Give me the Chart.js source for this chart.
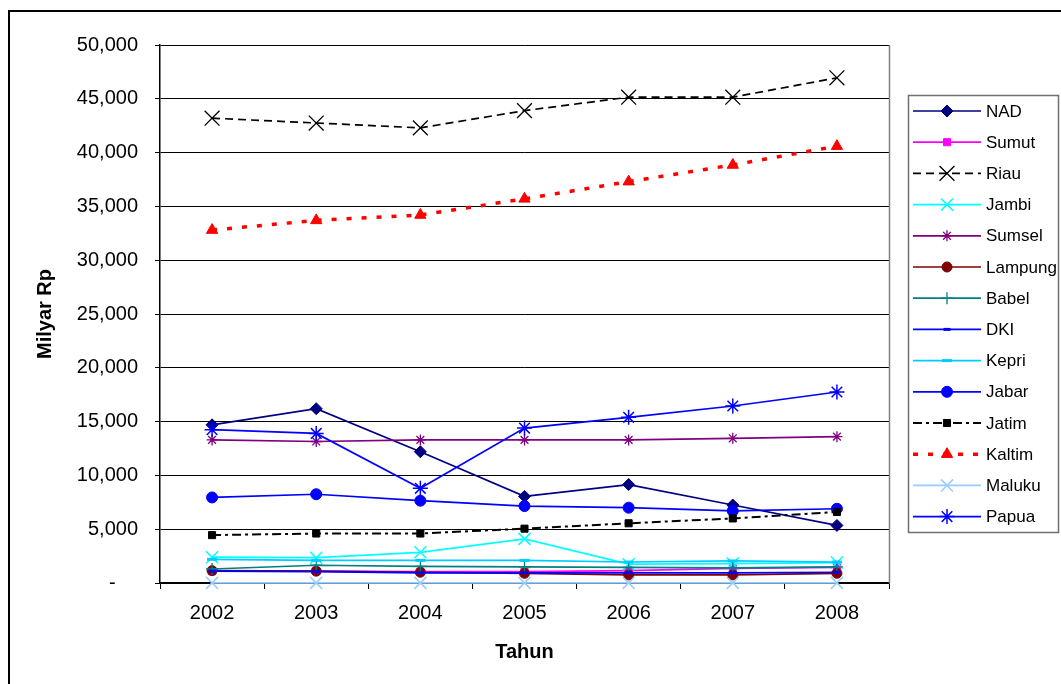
<!DOCTYPE html>
<html>
<head>
<meta charset="utf-8">
<script src="https://cdn.jsdelivr.net/npm/chart.js@4.4.1/dist/chart.umd.min.js"></script>
<style>
html,body{margin:0;padding:0;background:#fff;overflow:hidden;}
canvas{display:block;}
</style>
</head>
<body>
<canvas id="c" width="1061" height="684"></canvas>
<script>
const years = ['2002','2003','2004','2005','2006','2007','2008'];
const seriesNames = ['NAD','Sumut','Riau','Jambi','Sumsel','Lampung','Babel','DKI','Kepri','Jabar','Jatim','Kaltim','Maluku','Papua'];
const NAD    = [14700, 16200, 12200, 8050, 9150, 7250, 5350];
const Sumut  = [1100, 1100, 1050, 1050, 1150, 1350, 1450];
const Riau   = [43200, 42750, 42300, 43900, 45150, 45150, 46950];
const Jambi  = [2400, 2350, 2850, 4100, 1750, 1800, 1900];
const Sumsel = [13300, 13150, 13300, 13300, 13300, 13450, 13600];
const Lampung= [1150, 1100, 1000, 900, 750, 750, 900];
const Babel  = [1300, 1650, 1550, 1500, 1450, 1400, 1500];
const DKI    = [1100, 1050, 950, 950, 950, 950, 1000];
const Kepri  = [2200, 2100, 2100, 2100, 1950, 2050, 1950];
const Jabar  = [7950, 8250, 7650, 7150, 7000, 6700, 6900];
const Jatim  = [4450, 4600, 4600, 5050, 5550, 6000, 6600];
const Kaltim = [32800, 33700, 34200, 35700, 37300, 38850, 40600];
const Maluku = [10, 10, 10, 10, 10, 10, 10];
const Papua  = [14250, 13900, 8800, 14400, 15400, 16450, 17750];
const yTicks = [0, 5000, 10000, 15000, 20000, 25000, 30000, 35000, 40000, 45000, 50000];

const values = [NAD, Sumut, Riau, Jambi, Sumsel, Lampung, Babel, DKI, Kepri, Jabar, Jatim, Kaltim, Maluku, Papua];
const styles = [
  {c:'#000080', ps:'rectRot', r:6, bw:1.7, pbw:1, dash:[]},
  {c:'#FF00FF', ps:'rect', r:5, bw:1.7, pbw:1, dash:[]},
  {c:'#000000', ps:'crossRot', r:10.5, bw:1.7, pbw:1.3, dash:[8,5]},
  {c:'#00FFFF', ps:'crossRot', r:8.5, bw:1.7, pbw:1.5, dash:[]},
  {c:'#800080', ps:'star', r:5.5, bw:1.7, pbw:1.3, dash:[]},
  {c:'#800000', ps:'circle', r:5, bw:1.7, pbw:1, dash:[]},
  {c:'#008080', ps:'cross', r:6, bw:1.7, pbw:1.3, dash:[]},
  {c:'#0000FF', ps:'line', r:3.5, bw:1.7, pbw:3, dash:[]},
  {c:'#00CCFF', ps:'line', r:5, bw:1.7, pbw:3, dash:[]},
  {c:'#0000FF', ps:'circle', r:5.5, bw:1.7, pbw:1, dash:[]},
  {c:'#000000', ps:'rect', r:5, bw:2, pbw:1, dash:[9,4,3,4]},
  {c:'#FF0000', ps:'triangle', r:6.5, bw:3.5, pbw:1, dash:[5,10]},
  {c:'#99CCFF', ps:'crossRot', r:8.5, bw:1.7, pbw:1.5, dash:[]},
  {c:'#0000FF', ps:'star', r:7.5, bw:1.7, pbw:1.5, dash:[]}
];

const datasets = seriesNames.map((n, i) => {
  const s = styles[i];
  return {
    label: n,
    data: values[i],
    borderColor: s.c,
    backgroundColor: s.c,
    borderWidth: s.bw,
    borderDash: s.dash,
    pointStyle: s.ps,
    pointRadius: s.r,
    pointHoverRadius: s.r,
    pointBorderWidth: s.pbw,
    pointBorderColor: s.c,
    pointBackgroundColor: s.c,
    tension: 0,
    fill: false,
    clip: false,
    order: -i
  };
});

const FONT = "'Liberation Sans', Arial, sans-serif";

const framePlugin = {
  id: 'frame',
  beforeDraw(chart) {
    const ctx = chart.ctx;
    ctx.save();
    ctx.fillStyle = '#fff';
    ctx.fillRect(0, 0, chart.width, chart.height);
    ctx.strokeStyle = '#000';
    ctx.lineWidth = 2;
    ctx.strokeRect(9, 11, 1200, 800);
    ctx.restore();
  },
  afterDraw(chart) {
    const ctx = chart.ctx;
    const a = chart.chartArea;
    ctx.save();
    ctx.strokeStyle = '#808080';
    ctx.lineWidth = 1.5;
    ctx.beginPath();
    ctx.moveTo(a.right + 0.5, a.top);
    ctx.lineTo(a.right + 0.5, a.bottom);
    ctx.stroke();
    const lx = 908, ly = 95, lw = 150, lh = 437;
    ctx.strokeStyle = '#707070';
    ctx.lineWidth = 1.5;
    ctx.strokeRect(lx + 0.5, ly + 0.5, lw, lh);
    chart.data.datasets.forEach((d, i) => {
      const y = 111 + i * 31.2;
      ctx.save();
      ctx.strokeStyle = d.borderColor;
      ctx.lineWidth = d.borderWidth;
      ctx.setLineDash(d.borderDash || []);
      ctx.beginPath();
      ctx.moveTo(913, y);
      ctx.lineTo(981, y);
      ctx.stroke();
      ctx.setLineDash([]);
      ctx.strokeStyle = d.pointBorderColor;
      ctx.fillStyle = d.pointBackgroundColor;
      ctx.lineWidth = d.pointBorderWidth;
      Chart.helpers.drawPoint(ctx, {pointStyle: d.pointStyle, radius: d.pointRadius, rotation: 0, borderWidth: d.pointBorderWidth}, 947, y);
      ctx.restore();
      ctx.fillStyle = '#000';
      ctx.font = '17px ' + FONT;
      ctx.textBaseline = 'middle';
      ctx.textAlign = 'left';
      ctx.fillText(d.label, 986, y + 1);
    });
    ctx.restore();
  }
};

new Chart(document.getElementById('c'), {
  type: 'line',
  data: { labels: years, datasets: datasets },
  plugins: [framePlugin],
  options: {
    responsive: false,
    devicePixelRatio: 1,
    animation: false,
    events: [],
    layout: { padding: { left: 30, right: 172, top: 45, bottom: 20 } },
    plugins: { legend: { display: false }, tooltip: { enabled: false } },
    scales: {
      x: {
        type: 'category',
        offset: true,
        grid: { display: true, offset: true, drawOnChartArea: false, drawTicks: true, tickLength: 6, color: '#000', lineWidth: 1 },
        border: { display: true, color: '#000', width: 1.5 },
        ticks: { color: '#000', font: { family: FONT, size: 20 }, padding: 12, maxRotation: 0 },
        title: { display: true, text: 'Tahun', color: '#000', font: { family: FONT, size: 20, weight: 'bold' }, padding: { top: 0, bottom: 0 } },
        afterFit(scale) { scale.height = 81; }
      },
      y: {
        min: 0,
        max: 50000,
        afterBuildTicks(scale) { scale.ticks = yTicks.map(v => ({ value: v })); },
        grid: { color: '#000', lineWidth: 1, tickLength: 5, drawTicks: true },
        border: { display: true, color: '#000', width: 1.5 },
        ticks: {
          color: '#000',
          font: { family: FONT, size: 20 },
          padding: 17,
          callback: v => v === 0 ? '-\u00a0\u00a0\u00a0\u00a0' : v.toLocaleString('en-US')
        },
        title: { display: true, text: 'Milyar Rp', color: '#000', font: { family: FONT, size: 20, weight: 'bold' }, padding: { top: 3, bottom: 0 } },
        afterFit(scale) { scale.width = 130; }
      }
    }
  }
});
</script>
</body>
</html>
